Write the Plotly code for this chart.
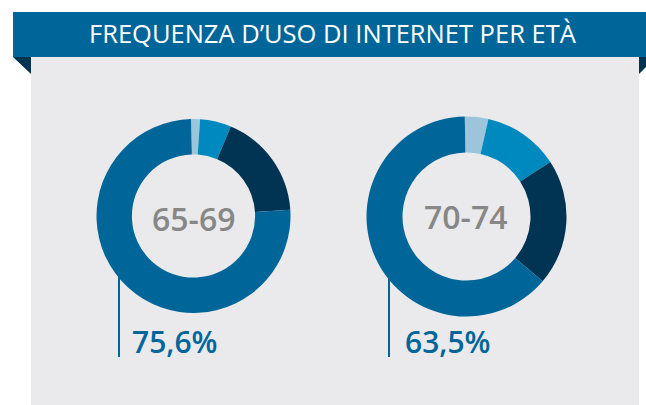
import plotly.graph_objects as go

W, H = 646, 405

title = "FREQUENZA D\u2019USO DI INTERNET PER ETÀ"
age_groups = ["65-69", "70-74"]
categories = ["Cat. A", "Cat. B", "Cat. C", "Cat. D"]
values_6569 = [1.5, 5.2, 17.7, 75.6]
values_7074 = [3.8, 12.3, 20.4, 63.5]
main_labels = ["75,6%", "63,5%"]

colors = ["#9CC4DA", "#0089BF", "#003452", "#006699"]
banner_color = "#006699"
panel_color = "#EAEAEC"
navy = "#003452"


def px(x):
    return x / W


def py(y):
    return 1 - y / H


fig = go.Figure()

donuts = [
    dict(vals=values_6569, cx=193.5, cy=216, r=97, hole=0.635, rot=-1.5),
    dict(vals=values_7074, cx=466.5, cy=216.5, r=100, hole=0.64, rot=-1),
]
for d, name in zip(donuts, age_groups):
    fig.add_trace(go.Pie(
        values=d["vals"], labels=categories, name=name,
        hole=d["hole"], sort=False, direction="clockwise", rotation=d["rot"],
        marker=dict(colors=colors, line=dict(width=0)),
        textinfo="none", hoverinfo="label+value", showlegend=False,
        domain=dict(x=[px(d["cx"] - d["r"]), px(d["cx"] + d["r"])],
                    y=[py(d["cy"] + d["r"]), py(d["cy"] - d["r"])]),
    ))

shapes = [
    dict(type="rect", xref="paper", yref="paper", x0=px(31), x1=px(639), y0=py(405), y1=py(57),
         fillcolor=panel_color, line=dict(width=0), layer="below"),
    dict(type="rect", xref="paper", yref="paper", x0=px(13), x1=px(646), y0=py(57), y1=py(12),
         fillcolor=banner_color, line=dict(width=0), layer="below"),
    dict(type="path", xref="paper", yref="paper",
         path=f"M {px(13)},{py(57)} L {px(31)},{py(57)} L {px(31)},{py(74)} Z",
         fillcolor=navy, line=dict(width=0), layer="below"),
    dict(type="path", xref="paper", yref="paper",
         path=f"M {px(639)},{py(57)} L {px(646)},{py(57)} L {px(646)},{py(67)} L {px(639)},{py(74)} Z",
         fillcolor=navy, line=dict(width=0), layer="below"),
    dict(type="line", xref="paper", yref="paper", x0=px(119), x1=px(119), y0=py(250), y1=py(357),
         line=dict(color="#006699", width=2), layer="below"),
    dict(type="line", xref="paper", yref="paper", x0=px(389), x1=px(389), y0=py(250), y1=py(357),
         line=dict(color="#006699", width=2), layer="below"),
]

annotations = [
    dict(text=title, x=px(333), y=py(33.5), xref="paper", yref="paper", showarrow=False,
         font=dict(family="Open Sans", size=25.5, color="white"), xanchor="center", yanchor="middle"),
    dict(text=age_groups[0], x=px(193.5), y=py(218), xref="paper", yref="paper", showarrow=False,
         font=dict(family="Open Sans", size=32, color="#878787", weight=600),
         xanchor="center", yanchor="middle"),
    dict(text=age_groups[1], x=px(465.5), y=py(216), xref="paper", yref="paper", showarrow=False,
         font=dict(family="Open Sans", size=32, color="#878787", weight=600),
         xanchor="center", yanchor="middle"),
    dict(text=main_labels[0], x=px(130), y=py(341), xref="paper", yref="paper", showarrow=False,
         font=dict(family="Open Sans", size=30, color="#006699", weight=600),
         xanchor="left", yanchor="middle"),
    dict(text=main_labels[1], x=px(403), y=py(341), xref="paper", yref="paper", showarrow=False,
         font=dict(family="Open Sans", size=30, color="#006699", weight=600),
         xanchor="left", yanchor="middle"),
]

fig.update_layout(
    width=W, height=H, margin=dict(l=0, r=0, t=0, b=0),
    paper_bgcolor="white", plot_bgcolor="white",
    shapes=shapes, annotations=annotations,
)

fig.write_html("out.html", config={"displayModeBar": False},
               post_script="document.body.style.margin='0';document.body.style.overflow='hidden';")
